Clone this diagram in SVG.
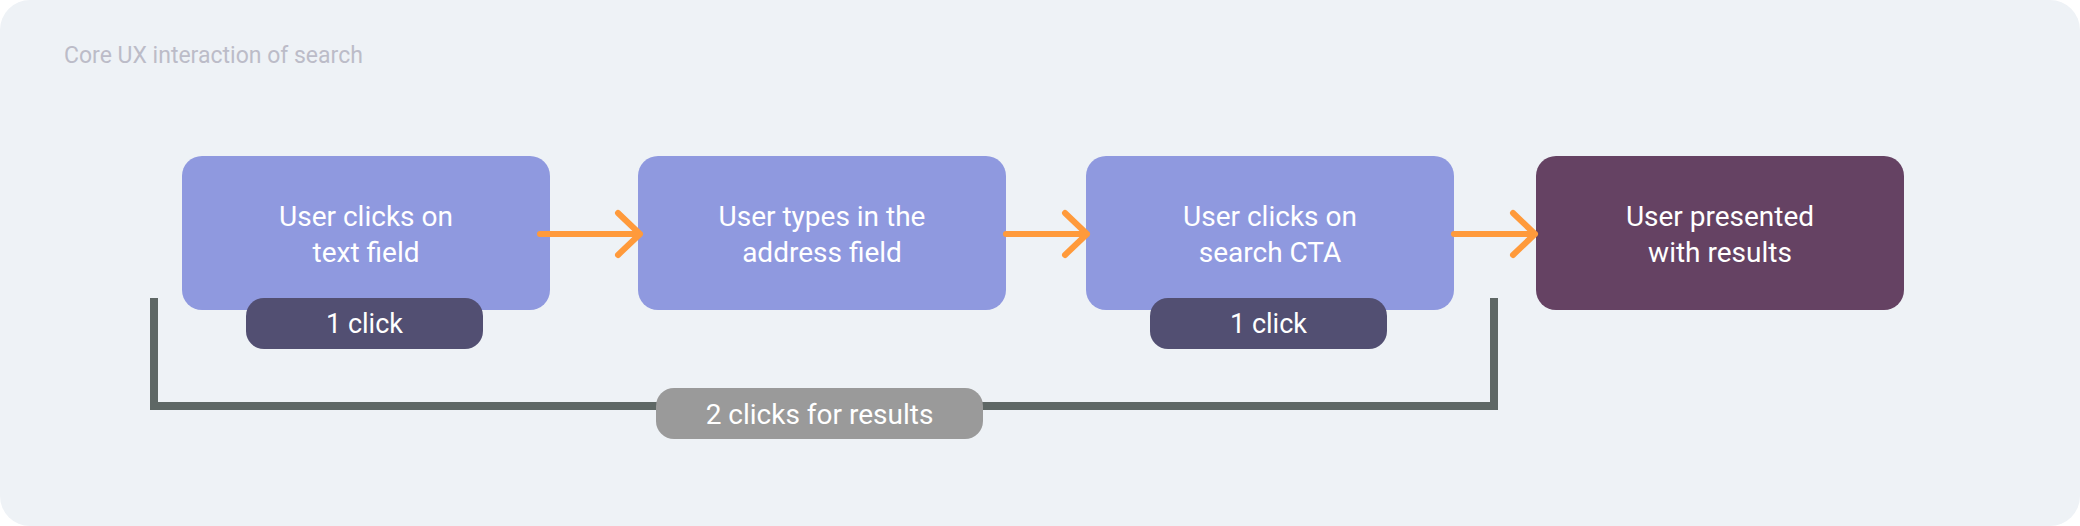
<svg xmlns="http://www.w3.org/2000/svg" width="2080" height="526" viewBox="0 0 2080 526">
  <style>
    .txt { font-family: Roboto, "Liberation Sans", sans-serif; fill: #FFFFFF; text-anchor: middle; }
    .node { fill: #8F99DF; }
    .final { fill: #654263; }
    .badge { fill: #524F72; }
    .pill { fill: #9A9A9A; }
    .arrow { stroke: #FF9A3B; stroke-width: 6; fill: none; stroke-linecap: round; stroke-linejoin: round; }
    .bracket { stroke: #5E6765; stroke-width: 8; fill: none; stroke-linejoin: miter; }
  </style>
  <rect x="0" y="0" width="2080" height="526" fill="#FFFFFF"/>
  <rect id="background" x="0" y="0" width="2080" height="526" rx="30" ry="30" fill="#EEF2F6"/>
  <text id="title" x="64" y="63" style="font-family: Roboto, 'Liberation Sans', sans-serif; font-size: 23px; fill: #BCBCC8;">Core UX interaction of search</text>

  <g id="bracket">
    <path class="bracket" d="M154 298 V406 H1494 V298"/>
  </g>

  <g id="node1">
    <rect class="node" x="182" y="156" width="368" height="154" rx="20" ry="20"/>
    <text class="txt" x="366" y="226" font-size="28">User clicks on</text>
    <text class="txt" x="366" y="262" font-size="28">text field</text>
  </g>
  <g id="node2">
    <rect class="node" x="638" y="156" width="368" height="154" rx="20" ry="20"/>
    <text class="txt" x="822" y="226" font-size="28">User types in the</text>
    <text class="txt" x="822" y="262" font-size="28">address field</text>
  </g>
  <g id="node3">
    <rect class="node" x="1086" y="156" width="368" height="154" rx="20" ry="20"/>
    <text class="txt" x="1270" y="226" font-size="28">User clicks on</text>
    <text class="txt" x="1270" y="262" font-size="28">search CTA</text>
  </g>
  <g id="node4">
    <rect class="final" x="1536" y="156" width="368" height="154" rx="20" ry="20"/>
    <text class="txt" x="1720" y="226" font-size="28">User presented</text>
    <text class="txt" x="1720" y="262" font-size="28">with results</text>
  </g>

  <g id="connectors">
    <path class="arrow" d="M540 234 H640 M618 213 L640 234 L618 255"/>
    <path class="arrow" d="M1006 234 H1087 M1065 213 L1087 234 L1065 255"/>
    <path class="arrow" d="M1454 234 H1535 M1513 213 L1535 234 L1513 255"/>
  </g>

  <g id="badge1">
    <rect class="badge" x="246" y="298" width="237" height="51" rx="18" ry="18"/>
    <text class="txt" x="364.5" y="333" font-size="27">1 click</text>
  </g>
  <g id="badge2">
    <rect class="badge" x="1150" y="298" width="237" height="51" rx="18" ry="18"/>
    <text class="txt" x="1268.5" y="333" font-size="27">1 click</text>
  </g>
  <g id="pill">
    <rect class="pill" x="656" y="388" width="327" height="51" rx="18" ry="18"/>
    <text class="txt" x="819.5" y="424" font-size="28">2 clicks for results</text>
  </g>
</svg>
